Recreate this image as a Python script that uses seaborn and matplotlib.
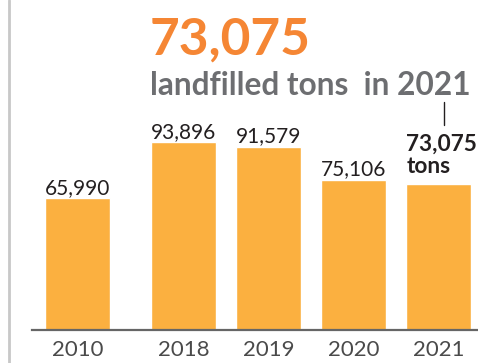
import matplotlib
matplotlib.use("Agg")
import matplotlib.pyplot as plt
import matplotlib.lines as mlines
import numpy as np
import pandas as pd
import seaborn as sns

years = ["2010", "2018", "2019", "2020", "2021"]
tons = [65990, 93896, 91579, 75106, 73075]
value_labels = ["65,990", "93,896", "91,579", "75,106", "73,075"]
headline = "73,075"
subtitle = "landfilled tons  in 2021"
callout = "73,075\ntons"

BAR = "#FBB040"
ORANGE = "#F58634"
GREY = "#6D6E71"
DARK = "#231F20"

sns.set_theme(style="white")
plt.rcParams["font.family"] = ["Lato", "DejaVu Sans"]

W, H = 478, 363
fig = plt.figure(figsize=(W / 100, H / 100), dpi=100)
ax = fig.add_axes([32 / W, (H - 330) / H, (W - 32) / W, 330 / H])

idx = np.arange(len(years))
pos = idx + np.where(idx > 0, 0.25, 0.0)
df = pd.DataFrame({"pos": pos, "tons": tons})

sns.barplot(data=df, x="pos", y="tons", native_scale=True, color=BAR,
            saturation=1, width=0.765, ax=ax)

ax.set_xlim((32 - 77.5) / 85, (W - 77.5) / 85)
ax.set_ylim(0, 330 * 499.4)
ax.set_xticks(pos)
ax.set_xticklabels(years, fontsize=16, color="#4A4A4A")
ax.tick_params(axis="x", length=0, pad=7)
ax.set_yticks([])
ax.set_xlabel("")
ax.set_ylabel("")
for s in ["left", "right", "top"]:
    ax.spines[s].set_visible(False)
ax.spines["bottom"].set_color("#666666")
ax.spines["bottom"].set_linewidth(1.6)

for p, v, lab in list(zip(pos, tons, value_labels))[:-1]:
    ax.annotate(lab, (p, v), xytext=(0, 3), textcoords="offset points",
                ha="center", va="baseline", fontsize=15, color=DARK)

# callout for 2021
ax.annotate(callout, (pos[-1] - 0.765 / 2, tons[-1]), xytext=(0, 8),
            textcoords="offset points", ha="left", va="baseline",
            fontsize=16.3, fontweight="bold", color=DARK, linespacing=1.05)

fig.add_artist(mlines.Line2D([444 / W, 444 / W], [1 - 102 / H, 1 - 125 / H],
                             color=DARK, linewidth=1.0))
fig.add_artist(mlines.Line2D([8.5 / W, 8.5 / W], [0, 1],
                             color="#C8C8C8", linewidth=2.0))

fig.text(150 / W, 1 - 55 / H, headline, fontsize=37, fontweight="bold",
         color=ORANGE, ha="left", va="baseline")
fig.text(150 / W, 1 - 95 / H, subtitle, fontsize=22.8, fontweight="bold",
         color=GREY, ha="left", va="baseline")

fig.savefig("out.png", dpi=100)
